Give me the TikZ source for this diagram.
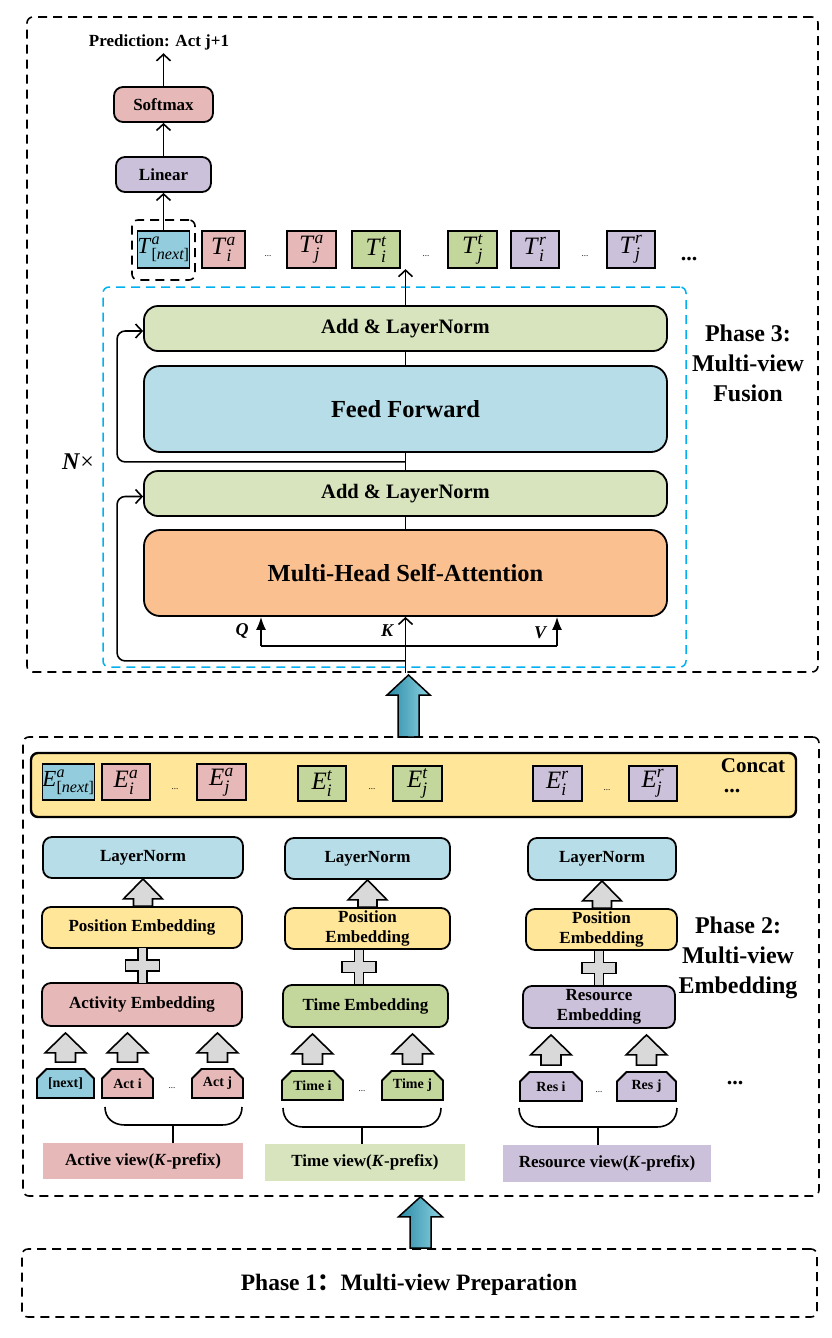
\documentclass[tikz,border=0pt]{standalone}
\usepackage{amsmath}
\usepackage{fontspec}
\setmainfont{Liberation Serif}
\newfontfamily\cjk{Noto Sans CJK SC}
\usetikzlibrary{calc,arrows.meta,shapes.misc}
\definecolor{cpink}{HTML}{E6B9B8}
\definecolor{clav}{HTML}{CCC1DA}
\definecolor{cgreen}{HTML}{C3D69B}
\definecolor{clgreen}{HTML}{D7E4BD}
\definecolor{clblue}{HTML}{B7DDE8}
\definecolor{ctok}{HTML}{93CDDD}
\definecolor{corange}{HTML}{FAC090}
\definecolor{cyellow}{HTML}{FFE699}
\definecolor{ccyan}{HTML}{00B0F0}
\definecolor{cgrey}{HTML}{D9D9D9}
\definecolor{tealdark}{HTML}{2A8AA5}
\definecolor{teallight}{HTML}{8ED3E3}
\newcommand\bx[7]{\node[#6, minimum width={#4pt-#2pt}, minimum height={#5pt-#3pt}] (#1) at ({(#2+#4)/2},{(#3+#5)/2}) {#7};}
\newcommand\tkn[3]{\textit{#1}$^{\textit{#2}}_{\textit{#3}}$}
\newcommand\nxt{{\upshape[}next{\upshape]}}
\newcommand\blockarrow[7][]{\draw[#1] let \p1=#2, \p2=#3 in (\x2-#6,\y1+#4) -- (\x2-#6,\y2-#4-#7) -- (\x2-#5,\y2-#4-#7) -- (\x2,\y2-#4) -- (\x2+#5,\y2-#4-#7) -- (\x2+#6,\y2-#4-#7) -- (\x2+#6,\y1+#4) -- cycle;}
\newcommand\plusat[1]{\draw[plusst] #1 ++(-4.5,-18) -- ++(9,0) -- ++(0,12.5) -- ++(12.5,0) -- ++(0,11) -- ++(-12.5,0) -- ++(0,12.5) -- ++(-9,0) -- ++(0,-12.5) -- ++(-12.5,0) -- ++(0,-11) -- ++(12.5,0) -- cycle;}
\begin{document}
\begin{tikzpicture}[x=1pt,y=-1pt,
  conn/.style={line width=1.6pt},
  oarr/.style={conn,-{Straight Barb[length=6.5pt,width=14pt]}},
  farr/.style={conn,-{Latex[length=13pt,width=10pt]}},
  rbox/.style={draw, line width=1.8pt, rounded corners=9pt, align=center, inner sep=1pt, font=\bfseries\fontsize{17}{21}\selectfont},
  bigbox/.style={rbox, rounded corners=14pt},
  tokbox/.style={draw, line width=1.8pt, inner sep=0pt, font=\fontsize{25}{25}\selectfont},
  chip/.style={draw, line width=1.8pt, chamfered rectangle, chamfered rectangle corners={north west,north east}, chamfered rectangle xsep=4.5pt, chamfered rectangle ysep=5pt, inner sep=0pt, font=\bfseries\fontsize{14}{16}\selectfont},
  vlabel/.style={inner sep=0pt, font=\bfseries\fontsize{17}{20}\selectfont},
  phasebox/.style={draw, dash pattern=on 9pt off 6pt, line width=1.6pt, rounded corners=6pt},
  framest/.style={draw, dash pattern=on 9pt off 6pt, line width=1.6pt, rounded corners=6pt},
  cyanst/.style={draw=ccyan, dash pattern=on 9pt off 6pt, line width=1.5pt, rounded corners=6pt},
  garr/.style={draw, line width=1.6pt, fill=cgrey},
  tarr/.style={draw, line width=1.5pt, left color=tealdark, right color=teallight},
  plusst/.style={draw, line width=1.6pt, fill=cgrey},
  sdots/.style={inner sep=0pt, font=\fontsize{9}{9}\selectfont},
  bdots/.style={inner sep=0pt, font=\bfseries\fontsize{22}{22}\selectfont},
  phaselab/.style={align=center, inner sep=0pt, font=\bfseries\fontsize{24}{30}\selectfont}
]
\useasboundingbox (0,0) rectangle (832,1338);

% ---------------- Phase 3 ----------------
\bx{p3}{27}{17}{818}{672}{phasebox}{}
\bx{cyanbox}{103}{287}{686}{667}{cyanst}{}
\bx{soft}{114}{87}{213}{122}{rbox, fill=cpink}{Softmax}
\bx{lin}{116}{157}{211}{192}{rbox, fill=clav}{Linear}
\node[font=\bfseries\fontsize{17}{20}\selectfont] (pred) at (159,42) {Prediction: Act j+1};
\bx{tnframe}{132}{220}{195}{280}{framest}{}
\bx{tn}{141}{231}{186}{268}{tokbox, fill=ctok, font=\fontsize{23}{23}\selectfont}{\tkn{T}{a}{\nxt}}
\bx{tia}{202}{231}{245}{268}{tokbox, fill=cpink}{\tkn{T}{a}{i}}
\node[sdots] (td1) at (268,256) {...};
\bx{tja}{287}{231}{336}{268}{tokbox, fill=cpink}{\tkn{T}{a}{j}}
\bx{tit}{352}{231}{400}{268}{tokbox, fill=cgreen}{\tkn{T}{t}{i}}
\node[sdots] (td2) at (426,256) {...};
\bx{tjt}{448}{231}{497}{268}{tokbox, fill=cgreen}{\tkn{T}{t}{j}}
\bx{tir}{511}{231}{559}{268}{tokbox, fill=clav}{\tkn{T}{r}{i}}
\node[sdots] (td3) at (585,256) {...};
\bx{tjr}{607}{231}{655}{268}{tokbox, fill=clav}{\tkn{T}{r}{j}}
\node[bdots] (td4) at (689,259) {...};

\draw[oarr] (tn.north) -- (lin.south);
\draw[oarr] (lin.north) -- (soft.south);
\draw[oarr] (soft.north) -- (soft.north |- pred.south);

\bx{addt}{144}{306}{667}{351}{bigbox, fill=clgreen, font=\bfseries\fontsize{20.5}{22}\selectfont}{Add \& LayerNorm}
\bx{ff}{144}{366}{667}{452}{bigbox, rounded corners=16pt, fill=clblue, font=\bfseries\fontsize{24.5}{28}\selectfont}{Feed Forward}
\bx{addb}{144}{471}{667}{516}{bigbox, fill=clgreen, font=\bfseries\fontsize{20.5}{22}\selectfont}{Add \& LayerNorm}
\bx{mh}{144}{530}{667}{616}{bigbox, rounded corners=16pt, fill=corange, font=\bfseries\fontsize{24.5}{28}\selectfont}{Multi-Head Self-Attention}

\coordinate (tout) at ($(addt.north)+(0,-36)$);
\coordinate (kin) at ($(mh.south)+(0,56)$);
\coordinate (rb1) at ($(mh.south)+(0,44)$);
\coordinate (rb2) at ($(ff.south)+(0,9)$);
\coordinate (qpt) at (261,646);
\coordinate (vpt) at (557,646);

\draw[oarr] (addt.north) -- (tout);
\draw[conn] (ff.north) -- (addt.south);
\draw[conn] (addb.north) -- (ff.south);
\draw[conn] (mh.north) -- (addb.south);
\draw[oarr] (kin) -- (mh.south);
\draw[conn] (qpt) -- (vpt);
\draw[farr] (qpt) -- (qpt |- mh.south);
\draw[farr] (vpt) -- (vpt |- mh.south);
\draw[oarr, rounded corners=8pt] (rb1) -| ($(addb.west)+(-26,3)$) -- ($(addb.west)+(0,3)$);
\draw[oarr, rounded corners=8pt] (rb2) -| ($(addt.west)+(-26,2.5)$) -- ($(addt.west)+(0,2.5)$);

\node[font=\bfseries\itshape\fontsize{18}{18}\selectfont] (ql) at (242,631) {Q};
\node[font=\bfseries\itshape\fontsize{18}{18}\selectfont] (kl) at (387,631) {K};
\node[font=\bfseries\itshape\fontsize{18}{18}\selectfont] (vl) at (540,633) {V};
\node[font=\fontsize{24}{24}\selectfont] (nx) at (78,462) {\textbf{\textit{N}}×};
\node[phaselab] (ph3) at (748,363) {Phase 3:\\Multi-view\\Fusion};

% teal arrows
\coordinate (ta1) at (408.5,737);
\coordinate (ta2) at (408.5,675);
\blockarrow[tarr]{(ta1)}{(ta2)}{0pt}{21.5pt}{10.5pt}{20pt}

% ---------------- Phase 2 ----------------
\bx{p2}{23}{737}{819}{1196}{phasebox}{}
\bx{concat}{31}{753}{796}{817}{draw, line width=2.4pt, rounded corners=7pt, fill=cyellow}{}
\node[font=\bfseries\fontsize{21}{21}\selectfont] (cl) at (753,766) {Concat};
\node[bdots] (cd) at (732,791) {...};
\bx{en}{44}{764}{93}{800}{tokbox, fill=ctok, font=\fontsize{23}{23}\selectfont}{\tkn{E}{a}{\nxt}}
\bx{eia}{102}{764}{150}{800}{tokbox, fill=cpink}{\tkn{E}{a}{i}}
\node[sdots] (ed1) at (175,789) {...};
\bx{eja}{197}{764}{246}{800}{tokbox, fill=cpink}{\tkn{E}{a}{j}}
\bx{eit}{298}{766}{346}{801}{tokbox, fill=cgreen}{\tkn{E}{t}{i}}
\node[sdots] (ed2) at (372,789) {...};
\bx{ejt}{393}{766}{442}{801}{tokbox, fill=cgreen}{\tkn{E}{t}{j}}
\bx{eir}{533}{766}{582}{801}{tokbox, fill=clav}{\tkn{E}{r}{i}}
\node[sdots] (ed3) at (607,790) {...};
\bx{ejr}{629}{766}{677}{801}{tokbox, fill=clav}{\tkn{E}{r}{j}}

% column 1
\bx{ln1}{43}{837}{243}{878}{rbox, fill=clblue}{LayerNorm}
\bx{pe1}{42}{907}{242}{948}{rbox, fill=cyellow}{Position Embedding}
\bx{ae}{42}{983}{242}{1026}{rbox, fill=cpink}{Activity Embedding}
\bx{cnext}{37}{1069}{94}{1098}{chip, fill=ctok}{[next]}
\bx{acti}{102}{1069}{153}{1098}{chip, fill=cpink}{Act i}
\node[sdots] (cd1) at (172,1088) {...};
\bx{actj}{192}{1069}{243}{1098}{chip, fill=cpink}{Act j}
\bx{av}{43}{1143}{243}{1179}{vlabel, fill=cpink}{Active view(\textit{K}-prefix)}

% column 2
\bx{ln2}{285}{838}{450}{879}{rbox, fill=clblue}{LayerNorm}
\bx{pe2}{285}{908}{450}{949}{rbox, fill=cyellow}{Position\\[-1pt]Embedding}
\bx{te}{283}{985}{448}{1027}{rbox, fill=cgreen}{Time Embedding}
\bx{timei}{282}{1071}{343}{1100}{chip, fill=cgreen}{Time i}
\node[sdots] (cd2) at (362,1091) {...};
\bx{timej}{382}{1071}{443}{1100}{chip, fill=cgreen}{Time j}
\bx{tv}{265}{1144}{465}{1181}{vlabel, fill=clgreen}{Time view(\textit{K}-prefix)}

% column 3
\bx{ln3}{528}{838}{676}{880}{rbox, fill=clblue}{LayerNorm}
\bx{pe3}{526}{909}{677}{950}{rbox, fill=cyellow}{Position\\[-1pt]Embedding}
\bx{re}{523}{986}{675}{1028}{rbox, fill=clav}{Resource\\[-1pt]Embedding}
\bx{resi}{520}{1072}{582}{1101}{chip, fill=clav}{Res i}
\node[sdots] (cd3) at (599,1092) {...};
\bx{resj}{617}{1072}{676}{1101}{chip, fill=clav}{Res j}
\node[bdots] (cd4) at (735,1083) {...};
\bx{rv}{503}{1145}{711}{1182}{vlabel, fill=clav}{Resource view(\textit{K}-prefix)}

\node[phaselab] (ph2) at (738,958) {Phase 2:\\Multi-view\\Embedding};

% grey arrows
\blockarrow[garr]{(pe1.north)}{(ln1.south)}{0pt}{19.5pt}{9.5pt}{20pt}
\blockarrow[garr]{(pe2.north)}{(ln2.south)}{0pt}{19.5pt}{9.5pt}{20pt}
\blockarrow[garr]{(pe3.north)}{(ln3.south)}{0pt}{19.5pt}{9.5pt}{20pt}
\blockarrow[garr]{(cnext.north)}{(cnext.north |- ae.south)}{6pt}{20.5pt}{10pt}{20pt}
\blockarrow[garr]{(acti.north)}{(acti.north |- ae.south)}{6pt}{20.5pt}{10pt}{20pt}
\blockarrow[garr]{(actj.north)}{(actj.north |- ae.south)}{6pt}{20.5pt}{10pt}{20pt}
\blockarrow[garr]{(timei.north)}{(timei.north |- te.south)}{6pt}{20.5pt}{10pt}{20pt}
\blockarrow[garr]{(timej.north)}{(timej.north |- te.south)}{6pt}{20.5pt}{10pt}{20pt}
\blockarrow[garr]{(resi.north)}{(resi.north |- re.south)}{6pt}{20.5pt}{10pt}{20pt}
\blockarrow[garr]{(resj.north)}{(resj.north |- re.south)}{6pt}{20.5pt}{10pt}{20pt}

% plus signs
\plusat{(142.5,965.5)}
\plusat{(359,967)}
\plusat{(599,968)}

% braces
\draw[conn] (105,1107) .. controls (105,1118) and (113,1125) .. (125,1125) -- (222,1125) .. controls (234,1125) and (242,1118) .. (242,1107);
\coordinate (s1) at (173,1125);
\draw[conn] (s1) -- (s1 |- av.north);
\draw[conn] (283,1108) .. controls (283,1119) and (291,1127) .. (303,1127) -- (421,1127) .. controls (433,1127) and (441,1119) .. (441,1108);
\coordinate (s2) at (362,1127);
\draw[conn] (s2) -- (s2 |- tv.north);
\draw[conn] (519,1108) .. controls (519,1119) and (527,1127) .. (539,1127) -- (657,1127) .. controls (669,1127) and (677,1119) .. (677,1108);
\coordinate (s3) at (598,1127);
\draw[conn] (s3) -- (s3 |- rv.north);

% ---------------- Phase 1 ----------------
\bx{p1}{22}{1249}{817}{1317}{phasebox}{}
\node[font=\bfseries\fontsize{23.5}{23.5}\selectfont] (ph1) at (409,1285) {Phase 1{\cjk ：}Multi-view Preparation};
\blockarrow[tarr]{(p1.north -| 420.5,0)}{(p2.south -| 420.5,0)}{0pt}{22pt}{10.5pt}{20pt}
\end{tikzpicture}
\end{document}
